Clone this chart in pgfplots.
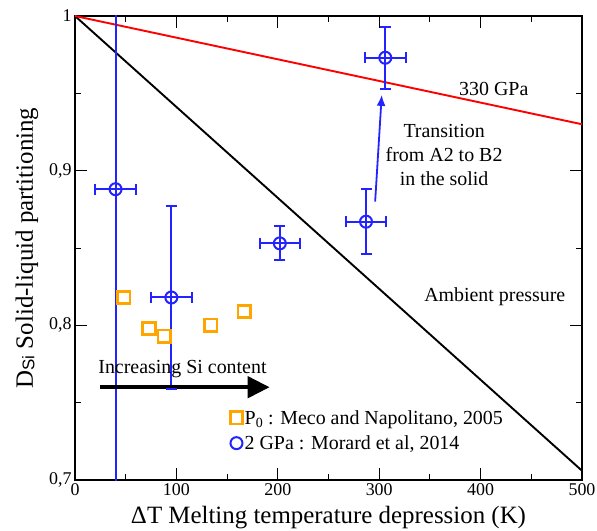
\documentclass[border=0pt]{standalone}
\usepackage{pgfplots}
\pgfplotsset{compat=1.18}
\usetikzlibrary{arrows.meta}
\usepackage{fontspec}
\setmainfont{Liberation Serif}
\newfontfamily\sansfont{Liberation Sans}
\definecolor{myblue}{RGB}{35,35,255}
\definecolor{myorange}{RGB}{255,165,0}
\pgfplotsset{
  xerr/.style={myblue, line width=2bp, mark=|, mark size=5.5bp, mark options={solid, line width=2bp}, forget plot},
  yerr/.style={myblue, line width=2bp, mark=-, mark size=5.5bp, mark options={solid, line width=2bp}, forget plot},
}
\begin{document}
\begin{tikzpicture}
\begin{axis}[
  scale only axis, width=507bp, height=464bp,
  xmin=0, xmax=500, ymin=0.7, ymax=1,
  xtick={0,100,...,500}, minor xtick={50,150,...,450},
  ytick={0.7,0.8,0.9,1}, minor ytick={0.75,0.85,0.95},
  tick align=inside, major tick length=12bp, minor tick length=6bp,
  tick style={black, line width=1bp},
  axis line style={line width=1.2bp},
  ticklabel style={font=\fontsize{18}{20}\selectfont},
  /pgf/number format/assume math mode=true,
  /pgf/number format/use comma,
  yticklabel style={/pgf/number format/fixed, /pgf/number format/precision=1},
  xlabel={ΔT Melting temperature depression (K)},
  ylabel={D\raisebox{-1.5bp}{\fontsize{17}{17}\sansfont Si} Solid-liquid partitioning},
  label style={font=\fontsize{25}{27}\selectfont},
  xlabel style={at={([yshift=-43bp]axis description cs:0.5,0)}, anchor=base},
  ylabel style={at={([xshift=-42bp]axis description cs:0,0.5)}, anchor=base},
  legend style={draw=none, fill=none, at={(axis cs:150,0.732)}, anchor=west,
    font=\fontsize{20}{22}\selectfont, row sep=6bp},
  legend cell align=left,
]
\addplot[black, line width=1.9bp, forget plot] coordinates {(0,1) (500,0.706)};
\addplot[red, line width=1.9bp, forget plot] coordinates {(0,1) (500,0.930)};

% horizontal error bars (x +- 20)
\addplot[xerr] coordinates {(20,0.888) (60,0.888)};
\addplot[xerr] coordinates {(75,0.818) (115,0.818)};
\addplot[xerr] coordinates {(182,0.853) (222,0.853)};
\addplot[xerr] coordinates {(267,0.867) (307,0.867)};
\addplot[xerr] coordinates {(286,0.973) (326,0.973)};
% vertical error bars
\addplot[yerr] coordinates {(40,0.688) (40,1.088)};
\addplot[yerr] coordinates {(95,0.759) (95,0.877)};
\addplot[yerr] coordinates {(202,0.842) (202,0.864)};
\addplot[yerr] coordinates {(287,0.846) (287,0.888)};
\addplot[yerr] coordinates {(306,0.953) (306,0.993)};

\addplot[only marks, mark=square, mark size=6.2bp, mark options={myorange, line width=2.7bp}] coordinates {
  (48,0.818) (73,0.798) (88,0.793) (134,0.800) (167,0.809)
};
\addlegendentry{P\textsubscript{0} : Meco and Napolitano, 2005}

\addplot[color=myblue, only marks, mark=o, mark size=6bp, mark options={line width=2bp}] table {
x y
40 0.888
95 0.818
202 0.853
287 0.867
306 0.973
};
\addlegendentry{2 GPa : Morard et al, 2014}

\draw[myblue, line width=1.8bp, -{Latex[length=11bp, width=9bp]}] (axis cs:296,0.880) -- (axis cs:302.5,0.949);
\draw[black, line width=4.5bp, -{Triangle[length=22bp, width=21bp]}] (axis cs:24.7,0.760) -- (axis cs:192,0.760);

\node[font=\fontsize{20}{22}\selectfont] at (axis cs:413,0.953) {330 GPa};
\node[font=\fontsize{20}{24}\selectfont, align=center] at (axis cs:364,0.910) {Transition\\from A2 to B2\\in the solid};
\node[font=\fontsize{20}{22}\selectfont] at (axis cs:414,0.8186) {Ambient pressure};
\node[font=\fontsize{20}{22}\selectfont] at (axis cs:106,0.772) {Increasing Si content};
\end{axis}
\pgfresetboundingbox
\path ([xshift=-75bp,yshift=-50bp]current axis.south west) rectangle ([xshift=15bp,yshift=16bp]current axis.north east);
\end{tikzpicture}
\end{document}
